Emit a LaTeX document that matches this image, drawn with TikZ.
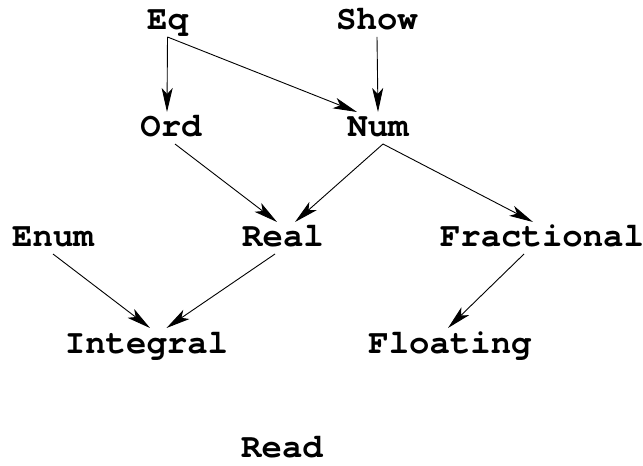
\documentclass[tikz,border=0pt]{standalone}
\usepackage{fontspec}
\setmonofont{TeX Gyre Cursor}
\usetikzlibrary{arrows.meta}
\tikzset{>={Stealth[length=24bp,width=11bp,inset=6bp]},
	cls/.style={font=\ttfamily\bfseries\fontsize{34bp}{36bp}\selectfont,anchor=base,inner sep=0pt,text height=18bp,text depth=0pt,outer ysep=7bp},
	isa/.style={->,line width=0.9bp}}
\begin{document}
\begin{tikzpicture}[x=1bp,y=-1bp]
	\useasboundingbox (0,0) rectangle (643,466);
	\node (Eq) at (167.5,30) [cls] {Eq};
	\node (Show) at (377,30) [cls] {Show};
	\node (Ord) at (171,137) [cls] {Ord};
	\node (Num) at (378,137) [cls] {Num};
	\node (Enum) at (53,247) [cls] {Enum};
	\node (Real) at (283,247) [cls] {Real};
	\node (Frac) at (542,247) [cls] {Fractional};
	\node (Int) at (146.5,353) [cls] {Integral};
	\node (Float) at (450,353) [cls] {Floating};
	\node (Read) at (282,457) [cls] {Read};
	\draw[isa] (Eq.south) -- ([xshift=-4bp]Ord.north);
	\draw[isa] (Eq.south) -- ([xshift=-21bp]Num.north);
	\draw[isa] (Show.south) -- (Num.north);
	\draw[isa] ([xshift=4bp]Ord.south) -- ([xshift=-6bp]Real.north);
	\draw[isa] ([xshift=5bp]Num.south) -- ([xshift=12bp]Real.north);
	\draw[isa] ([xshift=5bp]Num.south) -- ([xshift=-9bp]Frac.north);
	\draw[isa] (Enum.south) -- ([xshift=3.5bp]Int.north);
	\draw[isa] ([xshift=-8bp]Real.south) -- ([xshift=20bp]Int.north);
	\draw[isa] ([xshift=-18bp]Frac.south) -- ([xshift=-2bp]Float.north);
\end{tikzpicture}
\end{document}
